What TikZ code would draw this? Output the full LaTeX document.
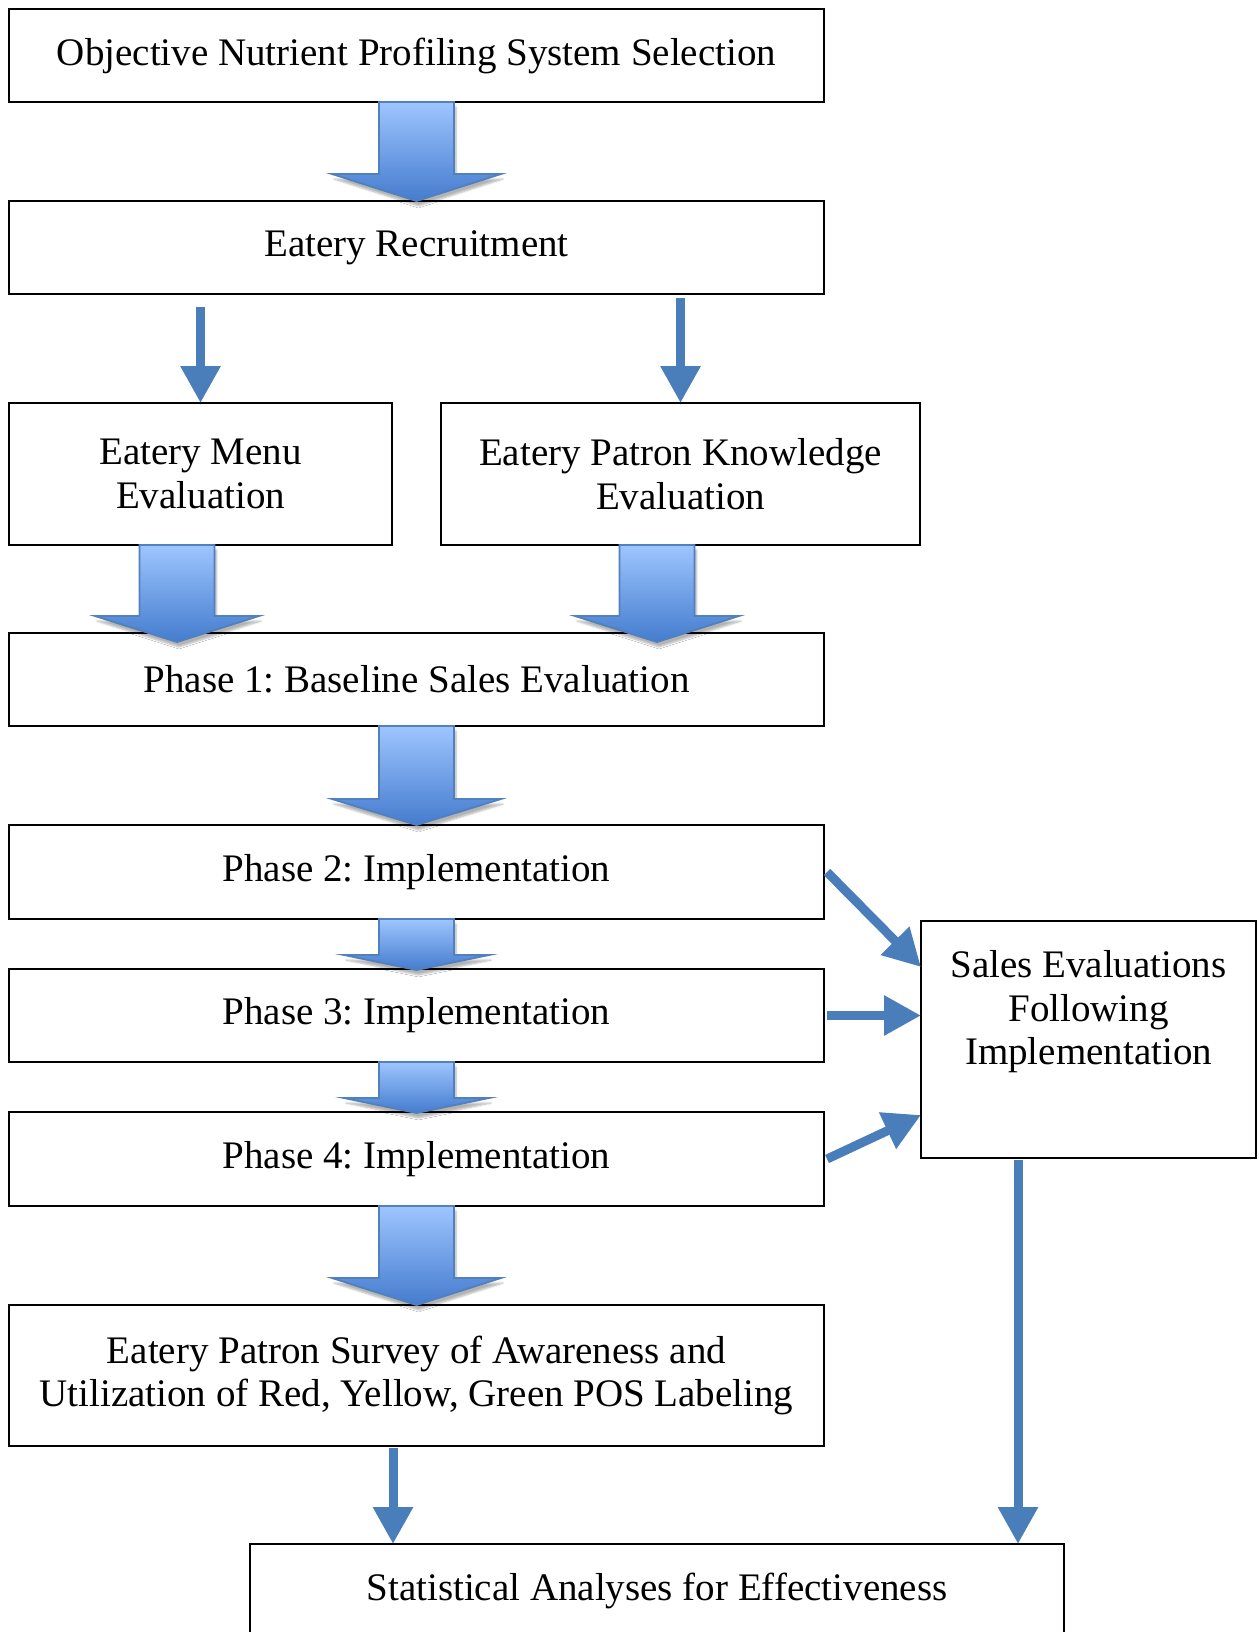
\documentclass[tikz,border=0pt]{standalone}
\usepackage{fontspec}
\setmainfont{Liberation Serif}
\frenchspacing
\usetikzlibrary{arrows.meta,calc,shadows.blur}
\definecolor{arrTop}{RGB}{158,197,255}
\definecolor{arrBot}{RGB}{68,124,206}
\definecolor{arrLine}{RGB}{80,128,190}
\definecolor{thinBlue}{RGB}{74,126,187}
\tikzset{
  box/.style={draw=black, line width=2pt, fill=white, inner sep=0pt, outer sep=0pt,
    align=center, font=\fontsize{39}{43.5}\selectfont},
  fatarrow/.style={draw=arrLine, line width=1.8pt, line join=miter, top color=arrTop, bottom color=arrBot,
    blur shadow={shadow xshift=2pt, shadow yshift=-5pt, shadow opacity=30, shadow blur steps=6}},
  thinarrow/.style={draw=thinBlue, line width=9pt, -{Triangle[width=38pt,length=37pt]}},
  lbl/.style={inner sep=0pt, align=center, font=\fontsize{39}{43.5}\selectfont}
}
\newcommand\fatarr[4]{%
  \path[fatarrow] let \p1=#1, \p2=#2 in
    (\x1-37.5pt,\y1) -- (\x1+37.5pt,\y1) -- (\x1+37.5pt,\y2+#3) -- (\x1+#4,\y2+#3)
    -- (\x1,\y2) -- (\x1-#4,\y2+#3) -- (\x1-37.5pt,\y2+#3) -- cycle;}
\begin{document}
\begin{tikzpicture}[x=1pt,y=-1pt]
\useasboundingbox (0,0) rectangle (1258,1632);
\clip (0,0) rectangle (1258,1632);
\node[box, minimum width=815pt, minimum height=93pt] (obj) at (416.5,55.5) {Objective Nutrient Profiling System Selection};
\node[box, minimum width=815pt, minimum height=93pt] (rec) at (416.5,247.5) {Eatery Recruitment};
\node[box, minimum width=383pt, minimum height=142pt] (menu) at (200.5,474) {Eatery Menu\\Evaluation};
\node[box, minimum width=479pt, minimum height=142pt] (patron) at (680.5,474) {Eatery Patron Knowledge\\Evaluation};
\node[box, minimum width=815pt, minimum height=93pt] (p1) at (416.5,679.5) {Phase 1: Baseline Sales Evaluation};
\node[box, minimum width=815pt, minimum height=94pt] (p2) at (416.5,872) {Phase 2: Implementation};
\node[box, minimum width=815pt, minimum height=93pt] (p3) at (416.5,1015.5) {Phase 3: Implementation};
\node[box, minimum width=815pt, minimum height=94pt] (p4) at (416.5,1159) {Phase 4: Implementation};
\node[box, minimum width=815pt, minimum height=141pt] (survey) at (416.5,1375.5) {Eatery Patron Survey of Awareness and\\Utilization of Red, Yellow, Green POS Labeling};
\node[box, minimum width=814pt, minimum height=93pt] (stat) at (657,1590.5) {Statistical Analyses for Effectiveness};
\node[box, minimum width=335pt, minimum height=237pt] (sales) at (1088.5,1039.5) {};
\node[lbl] (salestext) at (1088.5,1012) {Sales Evaluations\\Following\\Implementation};
% fat arrows
\fatarr{(obj.south)}{(rec.north)}{27pt}{84.5pt}
\fatarr{([xshift=-23.5pt]menu.south)}{([yshift=-9pt]p1.north)}{26pt}{82pt}
\fatarr{([xshift=-23.5pt]patron.south)}{([yshift=-9pt]p1.north)}{26pt}{82pt}
\fatarr{(p1.south)}{(p2.north)}{26pt}{84.5pt}
\fatarr{(p2.south)}{([yshift=-1pt]p3.north)}{15pt}{72.5pt}
\fatarr{(p3.south)}{([yshift=-1pt]p4.north)}{15pt}{72.5pt}
\fatarr{(p4.south)}{(survey.north)}{27pt}{84.5pt}
% thin arrows
\draw[thinarrow] ([yshift=-13pt]menu.north |- rec.south) -- (menu.north);
\draw[thinarrow] ([yshift=-4pt]patron.north |- rec.south) -- (patron.north);
\draw[thinarrow] ([xshift=3pt]p2.east) -- ([yshift=-46pt]sales.north west);
\draw[thinarrow] ([xshift=3pt]p3.east) -- (sales.west |- p3.east);
\draw[thinarrow] ([xshift=3pt]p4.east) -- ([yshift=43pt]sales.south west);
\draw[thinarrow] ([xshift=-23.5pt,yshift=-2pt]survey.south) coordinate (sv) -- (sv |- stat.north);
\draw[thinarrow] ([xshift=-70.5pt,yshift=-2pt]sales.south) coordinate (sl) -- (sl |- stat.north);
\end{tikzpicture}
\end{document}
